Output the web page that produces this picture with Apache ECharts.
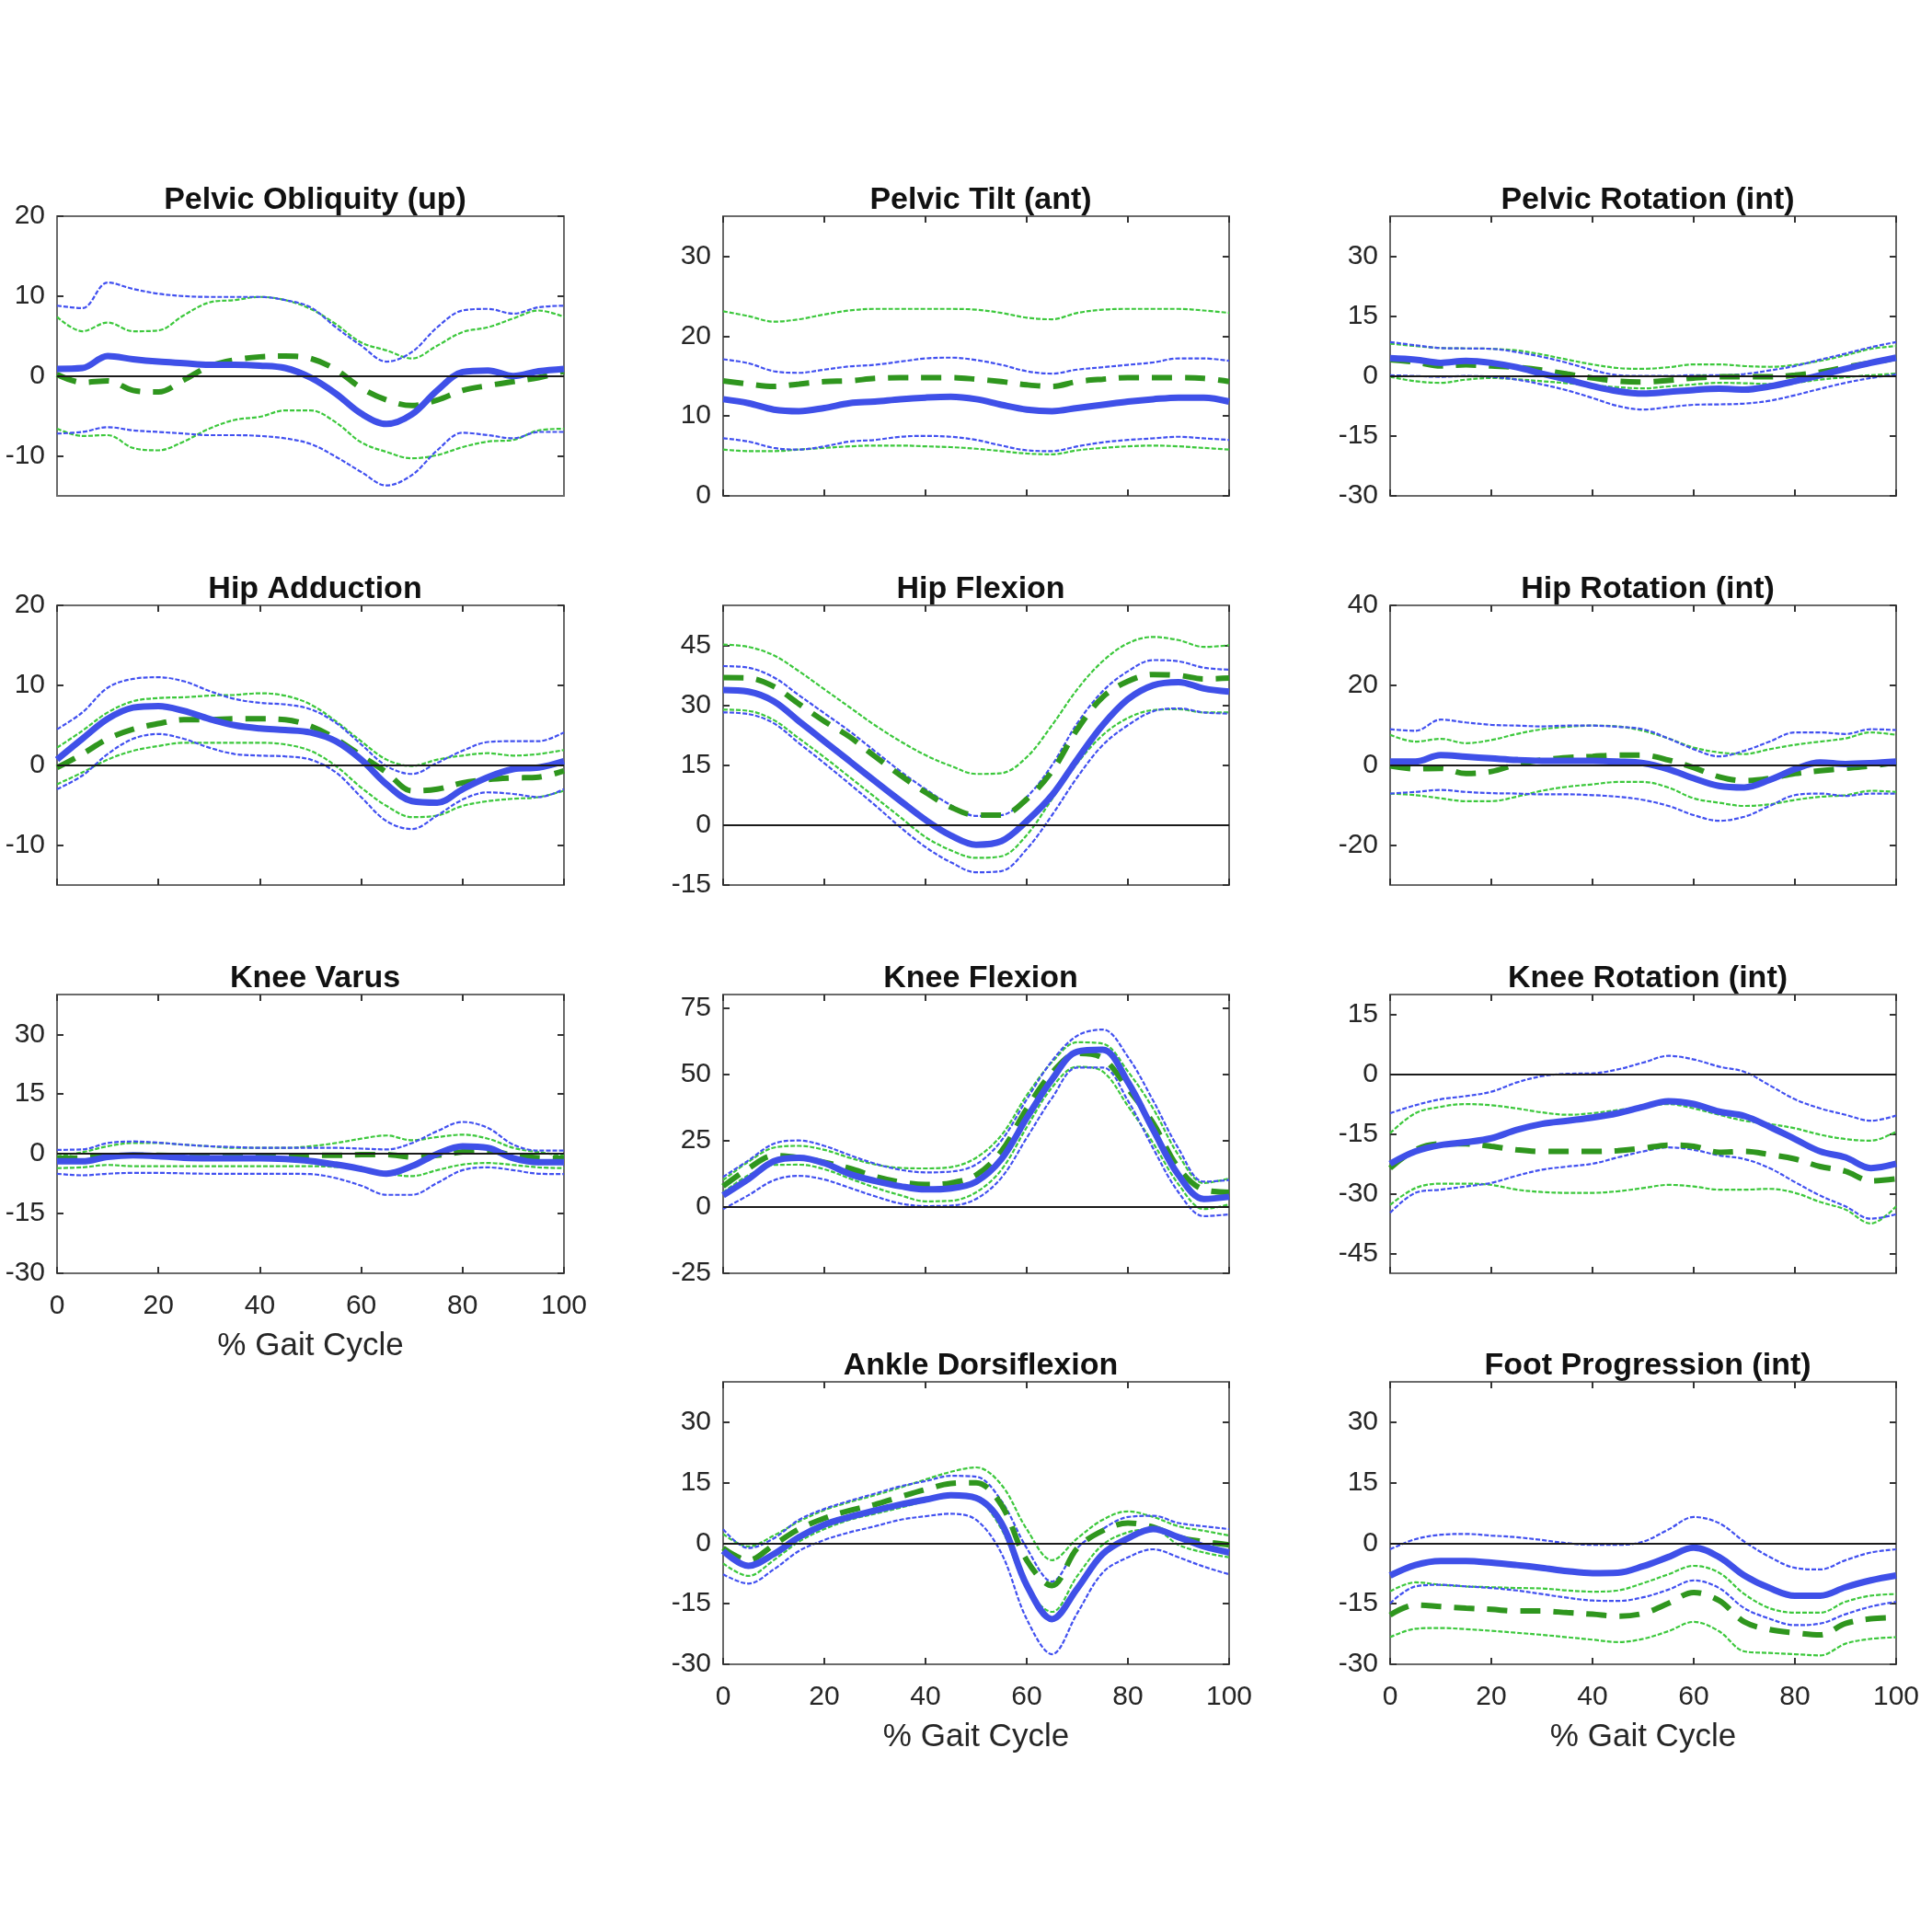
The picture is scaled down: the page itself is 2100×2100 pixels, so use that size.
<!DOCTYPE html>
<html>
<head>
<meta charset="utf-8">
<script src="https://cdn.jsdelivr.net/npm/echarts@6/dist/echarts.min.js"></script>
<style>html,body{margin:0;padding:0;background:#fff;}#c{width:2100px;height:2100px;}</style>
</head>
<body>
<div id="c"></div>
<script>
// ---------- shared x values (% gait cycle) ----------
const pct = [0,5,10,15,20,25,30,35,40,45,50,55,60,65,70,75,80,85,90,95,100];

// ---------- panel titles, y ranges, y tick labels ----------
const titles = ['Pelvic Obliquity (up)','Pelvic Tilt (ant)','Pelvic Rotation (int)',
  'Hip Adduction','Hip Flexion','Hip Rotation (int)',
  'Knee Varus','Knee Flexion','Knee Rotation (int)',
  'Ankle Dorsiflexion','Foot Progression (int)'];
const yMin = [-15, 0, -30, -15, -15, -30, -30, -25, -50, -30, -30];
const yMax = [20, 35, 40, 20, 55, 40, 40, 80, 20, 40, 40];
const yTickVals = [[-10,0,10,20],[0,10,20,30],[-30,-15,0,15,30],
  [-10,0,10,20],[-15,0,15,30,45],[-20,0,20,40],
  [-30,-15,0,15,30],[-25,0,25,50,75],[-45,-30,-15,0,15],
  [-30,-15,0,15,30],[-30,-15,0,15,30]];
const xTickVals = [0,20,40,60,80,100];
const xName = '% Gait Cycle';

// ---------- data: bm = blue mean, bu/bl = blue band, gm = green mean, gu/gl = green band ----------
const po_bm = [0.9,1.0,2.5,2.1,1.8,1.6,1.4,1.4,1.3,1.0,-0.2,-2.2,-4.7,-6.0,-4.8,-1.8,0.5,0.7,0.0,0.6,0.9];
const po_gm = [0.2,-0.8,-0.6,-1.8,-2.0,-0.5,1.2,2.0,2.4,2.5,2.2,0.8,-1.5,-3.0,-3.7,-3.0,-1.8,-1.2,-0.7,-0.2,0.6];
const po_bu = [8.8,8.5,11.7,10.9,10.3,10.0,9.9,9.9,9.9,9.5,8.6,6.1,3.8,1.8,3.0,6.1,8.2,8.4,7.8,8.6,8.8];
const po_gu = [7.4,5.6,6.7,5.6,5.7,7.6,9.2,9.5,9.9,9.5,8.4,6.5,4.2,3.2,2.2,3.8,5.5,6.1,7.2,8.2,7.4];
const po_bl = [-7.2,-7.0,-6.4,-6.8,-7.0,-7.2,-7.4,-7.4,-7.5,-7.8,-8.5,-10.1,-12.0,-13.7,-12.4,-9.3,-7.1,-7.4,-7.8,-7.0,-7.0];
const po_gl = [-6.6,-7.5,-7.4,-9.0,-9.3,-8.2,-6.6,-5.5,-5.1,-4.3,-4.3,-5.8,-8.3,-9.5,-10.3,-9.9,-8.9,-8.2,-8.0,-6.8,-6.6];

const pt_bm = [12.1,11.6,10.8,10.6,11.0,11.6,11.8,12.1,12.3,12.4,12.1,11.4,10.8,10.6,11.0,11.4,11.8,12.1,12.3,12.3,11.8];
const pt_gm = [14.4,14.0,13.7,14.0,14.3,14.4,14.7,14.8,14.8,14.8,14.6,14.3,13.9,13.7,14.3,14.6,14.8,14.8,14.8,14.7,14.3];
const pt_bu = [17.1,16.6,15.6,15.4,15.8,16.2,16.4,16.8,17.2,17.3,17.0,16.4,15.6,15.3,15.8,16.1,16.4,16.7,17.2,17.2,16.9];
const pt_gu = [23.1,22.5,21.8,22.1,22.7,23.2,23.4,23.4,23.4,23.4,23.3,22.9,22.3,22.1,22.9,23.3,23.4,23.4,23.4,23.2,22.9];
const pt_bl = [7.2,6.8,6.0,5.8,6.2,6.8,7.0,7.4,7.5,7.4,7.0,6.3,5.7,5.6,6.2,6.7,7.0,7.2,7.4,7.2,7.0];
const pt_gl = [5.8,5.6,5.6,5.8,6.0,6.2,6.3,6.3,6.2,6.1,5.9,5.6,5.3,5.2,5.7,6.0,6.2,6.3,6.2,6.0,5.8];

const pr_bm = [4.5,4.1,3.3,3.8,3.3,2.2,0.6,-0.9,-2.5,-3.8,-4.4,-4.0,-3.5,-3.2,-3.4,-2.6,-1.3,0.2,1.8,3.3,4.6];
const pr_gm = [4.1,3.5,2.5,2.8,2.5,2.2,1.5,0.5,-0.5,-1.3,-1.5,-1.1,-0.5,-0.2,-0.2,-0.2,0.2,1.0,2.2,3.3,4.5];
const pr_bu = [8.5,7.7,7.0,6.9,6.8,6.0,4.8,3.3,1.5,0.2,0.0,0.0,0.2,0.2,0.5,1.4,2.5,4.1,5.6,7.2,8.5];
const pr_gu = [8.1,7.5,7.0,6.9,6.8,6.4,5.4,4.1,2.9,2.0,1.8,2.2,2.9,2.9,2.5,2.3,2.8,3.8,5.2,6.8,7.5];
const pr_bl = [0.2,0.0,-0.2,0.0,-0.2,-0.9,-2.1,-3.6,-5.5,-7.5,-8.4,-7.8,-7.2,-7.1,-6.9,-6.2,-4.8,-3.2,-1.7,-0.5,0.4];
const pr_gl = [-0.2,-1.3,-1.7,-0.9,-0.5,-0.8,-1.3,-1.8,-2.3,-2.8,-3.1,-2.6,-2.1,-1.7,-1.8,-2.0,-1.7,-0.9,-0.3,0.2,0.6];

const ha_bm = [0.7,3.3,5.8,7.2,7.4,6.8,5.8,5.0,4.6,4.4,4.1,3.0,0.7,-2.4,-4.5,-4.7,-3.0,-1.5,-0.5,-0.3,0.5];
const ha_gm = [-0.3,1.4,3.3,4.5,5.2,5.7,5.7,5.8,5.8,5.7,4.9,3.3,1.2,-0.9,-3.2,-3.0,-2.2,-1.8,-1.6,-1.5,-0.7];
const ha_bu = [4.5,6.6,9.7,10.8,11.0,10.5,9.3,8.3,7.8,7.6,7.0,5.3,2.6,-0.1,-1.1,0.3,1.8,2.9,3.0,3.0,4.1];
const ha_gu = [2.2,4.3,6.6,8.0,8.4,8.5,8.7,8.8,9.0,8.7,7.6,5.5,3.0,0.7,-0.1,0.7,1.2,1.5,1.2,1.4,1.9];
const ha_bl = [-3.0,-1.3,1.4,3.3,3.9,3.3,2.2,1.4,1.2,1.1,0.7,-0.9,-4.0,-7.0,-8.0,-6.3,-4.3,-3.4,-3.6,-4.0,-3.0];
const ha_gl = [-2.4,-0.9,0.7,1.8,2.4,2.8,2.8,2.8,2.8,2.6,1.8,-0.1,-2.8,-5.1,-6.5,-6.3,-5.1,-4.5,-4.2,-4.0,-3.2];

const hf_bm = [33.8,33.4,31.0,26.0,21.0,16.0,11.0,6.1,1.3,-2.6,-4.9,-4.0,1.0,7.5,16.5,25.0,31.5,35.0,35.8,34.2,33.4];
const hf_gm = [36.9,36.8,34.7,30.3,26.0,22.1,17.2,12.5,8.2,4.5,2.5,2.5,6.5,13.5,24.0,32.0,36.0,37.7,37.5,36.6,36.8];
const hf_bu = [39.8,39.4,37.0,32.5,28.0,23.5,18.5,13.5,9.0,5.0,2.3,2.5,7.0,15.0,25.5,33.5,38.5,41.3,41.0,39.4,38.9];
const hf_gu = [45.2,44.6,42.5,38.5,34.0,29.5,25.0,21.0,17.5,14.8,12.8,13.0,17.0,25.0,34.0,41.0,45.5,47.1,46.3,44.6,45.0];
const hf_bl = [28.2,27.8,25.5,20.5,15.5,10.3,5.0,-0.5,-5.5,-9.3,-11.8,-11.5,-6.0,2.5,12.0,20.0,25.0,28.5,29.2,28.2,27.9];
const hf_gl = [28.9,28.6,26.3,21.7,17.0,12.0,7.0,2.0,-3.0,-6.3,-8.2,-7.8,-2.5,6.5,15.5,22.5,26.8,28.8,29.0,28.2,28.2];

const hr_bm = [0.9,0.9,2.5,2.1,1.7,1.3,1.1,1.1,1.1,0.9,0.5,-1.0,-3.3,-5.2,-5.6,-3.7,-1.0,0.7,0.3,0.5,0.9];
const hr_gm = [-0.2,-0.9,-0.8,-2.1,-1.6,0.2,1.3,1.9,2.2,2.5,2.5,1.3,-0.6,-2.9,-3.9,-3.3,-2.1,-1.4,-0.8,-0.2,0.7];
const hr_bu = [9.0,8.6,11.4,10.7,10.1,9.9,9.7,9.9,9.9,9.6,9.0,6.7,4.0,2.2,3.6,5.9,8.2,8.2,7.8,9.0,8.8];
const hr_gu = [7.6,5.9,6.6,5.5,6.3,7.8,9.0,9.6,9.9,9.7,8.6,6.7,4.4,3.2,2.8,4.0,5.1,5.9,6.7,8.2,7.6];
const hr_bl = [-7.1,-6.7,-6.2,-6.7,-7.0,-7.1,-7.3,-7.3,-7.5,-7.9,-8.7,-10.2,-12.5,-13.9,-12.9,-10.2,-7.5,-7.1,-7.7,-7.1,-7.1];
const hr_gl = [-7.1,-7.5,-8.3,-9.0,-9.0,-7.9,-6.4,-5.4,-4.8,-4.2,-4.2,-5.6,-8.3,-9.4,-10.2,-9.8,-8.7,-7.9,-7.5,-6.4,-6.7];

const kv_bm = [-1.9,-1.9,-0.8,-0.4,-0.6,-1.0,-1.1,-1.1,-1.1,-1.3,-1.8,-2.7,-3.8,-5.0,-3.1,0.0,1.9,1.5,-1.1,-2.1,-2.1];
const kv_gm = [-1.1,-1.0,-0.6,-0.4,-0.4,-0.5,-0.5,-0.6,-0.6,-0.5,-0.4,-0.4,-0.2,-0.2,-0.8,-0.4,0.5,0.8,-0.4,-1.0,-1.1];
const kv_bu = [1.0,1.1,2.7,3.1,2.8,2.3,1.9,1.7,1.5,1.5,1.5,1.5,1.3,1.1,2.7,5.7,8.0,6.5,2.3,0.8,0.8];
const kv_gu = [-0.6,0.4,1.9,2.7,2.7,2.3,1.9,1.5,1.5,1.5,1.9,2.7,3.8,4.6,3.4,4.2,4.8,3.8,1.5,0.4,-0.4];
const kv_bl = [-5.0,-5.4,-5.0,-4.8,-4.8,-4.9,-5.0,-5.0,-5.0,-5.0,-5.1,-6.1,-8.0,-10.3,-10.3,-7.3,-4.1,-3.4,-4.1,-5.0,-5.1];
const kv_gl = [-3.6,-3.4,-2.8,-3.1,-3.1,-3.1,-3.1,-3.1,-3.1,-3.1,-3.1,-3.3,-3.8,-5.0,-5.6,-4.1,-2.7,-2.3,-2.8,-3.4,-3.6];

const kf_bm = [4.4,10.5,17.2,18.5,16.5,12.4,9.8,7.8,6.6,7.0,9.5,18.0,33.5,48.0,58.5,59.2,47.0,29.0,12.0,3.0,3.8];
const kf_gm = [7.8,14.5,19.3,18.5,16.8,14.5,11.5,9.4,8.4,9.0,12.0,21.0,37.0,50.5,57.8,56.0,44.5,31.5,14.7,6.5,5.5];
const kf_bu = [11.3,17.5,23.8,25.0,23.0,19.5,16.3,14.0,13.0,13.3,16.0,25.0,40.5,55.0,64.5,66.8,56.5,40.0,22.0,9.5,10.1];
const kf_gu = [10.1,17.0,22.3,23.0,21.5,18.5,16.0,14.7,14.5,15.0,18.5,27.0,42.0,54.5,62.0,61.5,51.0,37.0,19.5,9.0,10.7];
const kf_bl = [-0.8,4.4,10.0,11.7,10.3,7.2,4.0,1.3,0.3,0.5,3.0,11.0,26.0,41.0,52.5,52.5,40.0,22.0,5.5,-3.5,-2.8];
const kf_gl = [5.5,11.9,15.8,15.9,14.2,10.7,7.3,4.4,2.1,2.3,5.5,14.0,30.0,45.0,52.8,51.0,38.0,24.0,8.5,-0.8,0.9];

const kr_bm = [-22.5,-19.4,-17.8,-17.1,-16.1,-14.0,-12.5,-11.7,-10.9,-9.8,-8.2,-6.8,-7.5,-9.4,-10.5,-13.2,-16.3,-19.4,-20.9,-23.6,-22.5];
const kr_gm = [-23.6,-19.0,-17.5,-17.5,-18.1,-19.0,-19.4,-19.4,-19.4,-19.2,-18.6,-17.8,-18.1,-19.6,-19.4,-20.2,-21.3,-23.2,-24.4,-26.8,-26.3];
const kr_bu = [-9.8,-7.8,-6.3,-5.5,-4.4,-2.1,-0.5,0.1,0.2,1.2,2.9,4.6,3.7,1.9,0.6,-2.8,-6.3,-8.6,-10.2,-11.7,-10.4];
const kr_gu = [-14.8,-9.8,-8.2,-7.5,-7.8,-8.6,-9.6,-10.2,-9.8,-9.0,-8.2,-7.5,-8.6,-10.2,-11.7,-12.5,-13.6,-15.2,-16.3,-16.7,-14.4];
const kr_bl = [-34.8,-29.8,-29.0,-28.2,-27.3,-25.5,-24.0,-23.2,-22.5,-20.9,-19.4,-18.4,-19.0,-20.4,-21.3,-23.6,-27.1,-30.5,-33.2,-36.3,-35.2];
const kr_gl = [-32.8,-28.6,-27.5,-27.5,-27.8,-29.0,-29.6,-29.8,-29.8,-29.4,-28.6,-27.8,-28.2,-29.0,-29.0,-28.8,-29.8,-32.1,-34.0,-37.5,-33.2];

const ad_bm = [-1.9,-5.6,-2.7,1.5,4.6,6.5,8.1,9.6,10.8,11.9,11.2,5.0,-10.4,-18.8,-11.2,-2.7,1.2,3.5,1.5,-0.8,-2.3];
const ad_gm = [-1.2,-4.2,-0.4,3.5,6.2,8.1,9.6,11.5,13.3,14.8,15.0,9.5,-4.2,-10.5,-1.2,3.1,5.0,4.0,1.5,0.4,-0.4];
const ad_bu = [3.5,-1.2,1.2,5.8,8.5,10.5,12.3,14.1,15.4,16.7,16.5,10.5,-1.2,-9.5,-1.2,3.5,6.5,6.8,5.0,4.2,3.5];
const ad_gu = [2.3,-0.8,1.9,5.4,8.2,10.2,11.9,13.8,15.8,17.7,18.8,14.5,3.5,-4.2,1.2,5.8,7.9,6.5,4.2,3.1,1.9];
const ad_bl = [-7.7,-10.0,-6.5,-1.9,0.8,2.7,4.2,5.8,6.7,7.3,5.8,-2.5,-18.8,-27.5,-17.3,-7.3,-3.5,-1.5,-3.5,-5.8,-7.7];
const ad_gl = [-5.0,-8.1,-4.2,0.4,3.5,5.8,7.3,8.8,10.4,11.5,10.8,3.5,-11.0,-17.0,-8.1,-0.4,2.7,3.5,-0.4,-2.3,-3.5];

const fp_bm = [-8.0,-5.4,-4.4,-4.4,-4.8,-5.4,-6.1,-6.9,-7.4,-7.3,-5.7,-3.4,-1.1,-3.4,-8.0,-11.1,-13.0,-13.0,-10.9,-9.2,-8.0];
const fp_gm = [-17.8,-15.3,-15.7,-16.1,-16.4,-16.8,-16.8,-17.2,-17.6,-18.1,-17.4,-14.9,-12.2,-14.2,-19.5,-21.4,-22.2,-22.7,-19.9,-18.7,-18.4];
const fp_bu = [-1.5,1.0,2.1,2.3,1.9,1.5,0.8,0.0,-0.4,-0.4,0.4,3.4,6.5,5.0,0.4,-3.4,-6.1,-6.5,-4.2,-2.3,-1.5];
const fp_gu = [-11.9,-9.7,-10.3,-10.7,-10.9,-11.1,-11.2,-11.7,-12.0,-11.7,-9.9,-7.7,-5.6,-7.3,-12.6,-16.1,-17.2,-17.2,-14.5,-13.0,-12.6];
const fp_bl = [-14.9,-10.7,-10.3,-10.7,-11.1,-11.7,-12.6,-13.5,-14.2,-14.3,-13.4,-11.5,-9.2,-11.1,-16.1,-18.7,-20.3,-19.9,-17.6,-15.7,-14.5];
const fp_gl = [-23.3,-21.2,-21.0,-21.3,-21.7,-22.2,-22.7,-23.3,-23.9,-24.5,-23.7,-21.8,-19.5,-21.8,-26.8,-27.2,-27.5,-27.8,-24.9,-23.7,-23.3];

const panelData = [
  [po_bm,po_gm,po_bu,po_gu,po_bl,po_gl],
  [pt_bm,pt_gm,pt_bu,pt_gu,pt_bl,pt_gl],
  [pr_bm,pr_gm,pr_bu,pr_gu,pr_bl,pr_gl],
  [ha_bm,ha_gm,ha_bu,ha_gu,ha_bl,ha_gl],
  [hf_bm,hf_gm,hf_bu,hf_gu,hf_bl,hf_gl],
  [hr_bm,hr_gm,hr_bu,hr_gu,hr_bl,hr_gl],
  [kv_bm,kv_gm,kv_bu,kv_gu,kv_bl,kv_gl],
  [kf_bm,kf_gm,kf_bu,kf_gu,kf_bl,kf_gl],
  [kr_bm,kr_gm,kr_bu,kr_gu,kr_bl,kr_gl],
  [ad_bm,ad_gm,ad_bu,ad_gu,ad_bl,ad_gl],
  [fp_bm,fp_gm,fp_bu,fp_gu,fp_bl,fp_gl]
];

// ---------- layout & style ----------
const colLeft = [62, 786, 1511];
const colWidth = [551, 550, 550];
const rowTop = [235, 658, 1081, 1502];
const rowHeight = [304, 304, 303, 307];
const panelCell = [[0,0],[0,1],[0,2],[1,0],[1,1],[1,2],[2,0],[2,1],[2,2],[3,1],[3,2]];
const showXLabels = [false,false,false,false,false,false,true,false,false,true,true];
const showXTicks = [false,true,true,true,true,true,true,true,true,true,true];
const showZero = [true,false,true,true,true,true,true,true,true,true,true];

const FONT = "'Liberation Sans', Arial, Helvetica, sans-serif";
const BLUE = '#3f50e8';
const GREEN = '#2f961e';
const BLUE_T = '#4150f0';
const GREEN_T = '#3cc83c';
const FRAME = '#6b6b6b';
const TXT = '#262626';

const option = { animation:false, backgroundColor:'#ffffff', title:[], grid:[], xAxis:[], yAxis:[], series:[] };

panelData.forEach((d, i) => {
  const [r, c] = panelCell[i];
  const left = colLeft[c], top = rowTop[r], w = colWidth[c], h = rowHeight[r];
  option.grid.push({ left:left, top:top, width:w, height:h, show:false });
  option.title.push({ text:titles[i], left:left + w/2, top:top - 39, textAlign:'center',
    textStyle:{ fontFamily:FONT, fontWeight:'bold', fontSize:34, color:'#111' } });

  const xb = option.xAxis.length;
  const lineStyle = { color:FRAME, width:2 };
  const tickStyle = { color:'#333', width:2 };
  option.xAxis.push({ type:'value', gridIndex:i, min:0, max:100, position:'bottom',
    axisLine:{ show:true, onZero:false, lineStyle },
    axisTick:{ show:showXTicks[i], inside:true, length:7, customValues:xTickVals, lineStyle:tickStyle },
    axisLabel:{ show:showXLabels[i], customValues:xTickVals, margin:21, fontFamily:FONT, fontSize:30, color:TXT },
    splitLine:{ show:false },
    name: showXLabels[i] ? xName : '', nameLocation:'middle', nameGap:62,
    nameTextStyle:{ fontFamily:FONT, fontSize:35, color:TXT } });
  option.xAxis.push({ type:'value', gridIndex:i, min:0, max:100, position:'top',
    axisLine:{ show:true, onZero:false, lineStyle },
    axisTick:{ show:showXTicks[i], inside:true, length:7, customValues:xTickVals, lineStyle:tickStyle },
    axisLabel:{ show:false }, splitLine:{ show:false } });
  const yl = option.yAxis.length;
  option.yAxis.push({ type:'value', gridIndex:i, min:yMin[i], max:yMax[i], position:'left',
    axisLine:{ show:true, onZero:false, lineStyle },
    axisTick:{ show:true, inside:true, length:7, customValues:yTickVals[i], lineStyle:tickStyle },
    axisLabel:{ show:true, customValues:yTickVals[i], margin:13, fontFamily:FONT, fontSize:30, color:TXT },
    splitLine:{ show:false } });
  option.yAxis.push({ type:'value', gridIndex:i, min:yMin[i], max:yMax[i], position:'right',
    axisLine:{ show:true, onZero:false, lineStyle },
    axisTick:{ show:true, inside:true, length:7, customValues:yTickVals[i], lineStyle:tickStyle },
    axisLabel:{ show:false }, splitLine:{ show:false } });

  const mk = arr => pct.map((x, k) => [x, arr[k]]);
  const [bm, gm, bu, gu, bl, gl] = d;
  const base = { type:'line', xAxisIndex:xb, yAxisIndex:yl, showSymbol:false, symbol:'none', smooth:0.35, silent:true };
  const thin = (arr, col) => Object.assign({}, base, { data:mk(arr), lineStyle:{ color:col, width:2.2, type:[5,2] }, z:2 });
  const s0 = thin(gu, GREEN_T);
  if (showZero[i]) {
    s0.markLine = { silent:true, symbol:'none', label:{show:false},
      lineStyle:{ color:'#1a1a1a', width:2, type:'solid' }, data:[{ yAxis:0 }] };
  }
  option.series.push(s0);
  option.series.push(thin(gl, GREEN_T));
  option.series.push(thin(bu, BLUE_T));
  option.series.push(thin(bl, BLUE_T));
  option.series.push(Object.assign({}, base, { data:mk(gm), lineStyle:{ color:GREEN, width:6, type:[22,14] }, z:3 }));
  option.series.push(Object.assign({}, base, { data:mk(bm), lineStyle:{ color:BLUE, width:7, type:'solid' }, z:4 }));
});

const chart = echarts.init(document.getElementById('c'), null, { renderer:'canvas' });
chart.setOption(option);
</script>
</body>
</html>
